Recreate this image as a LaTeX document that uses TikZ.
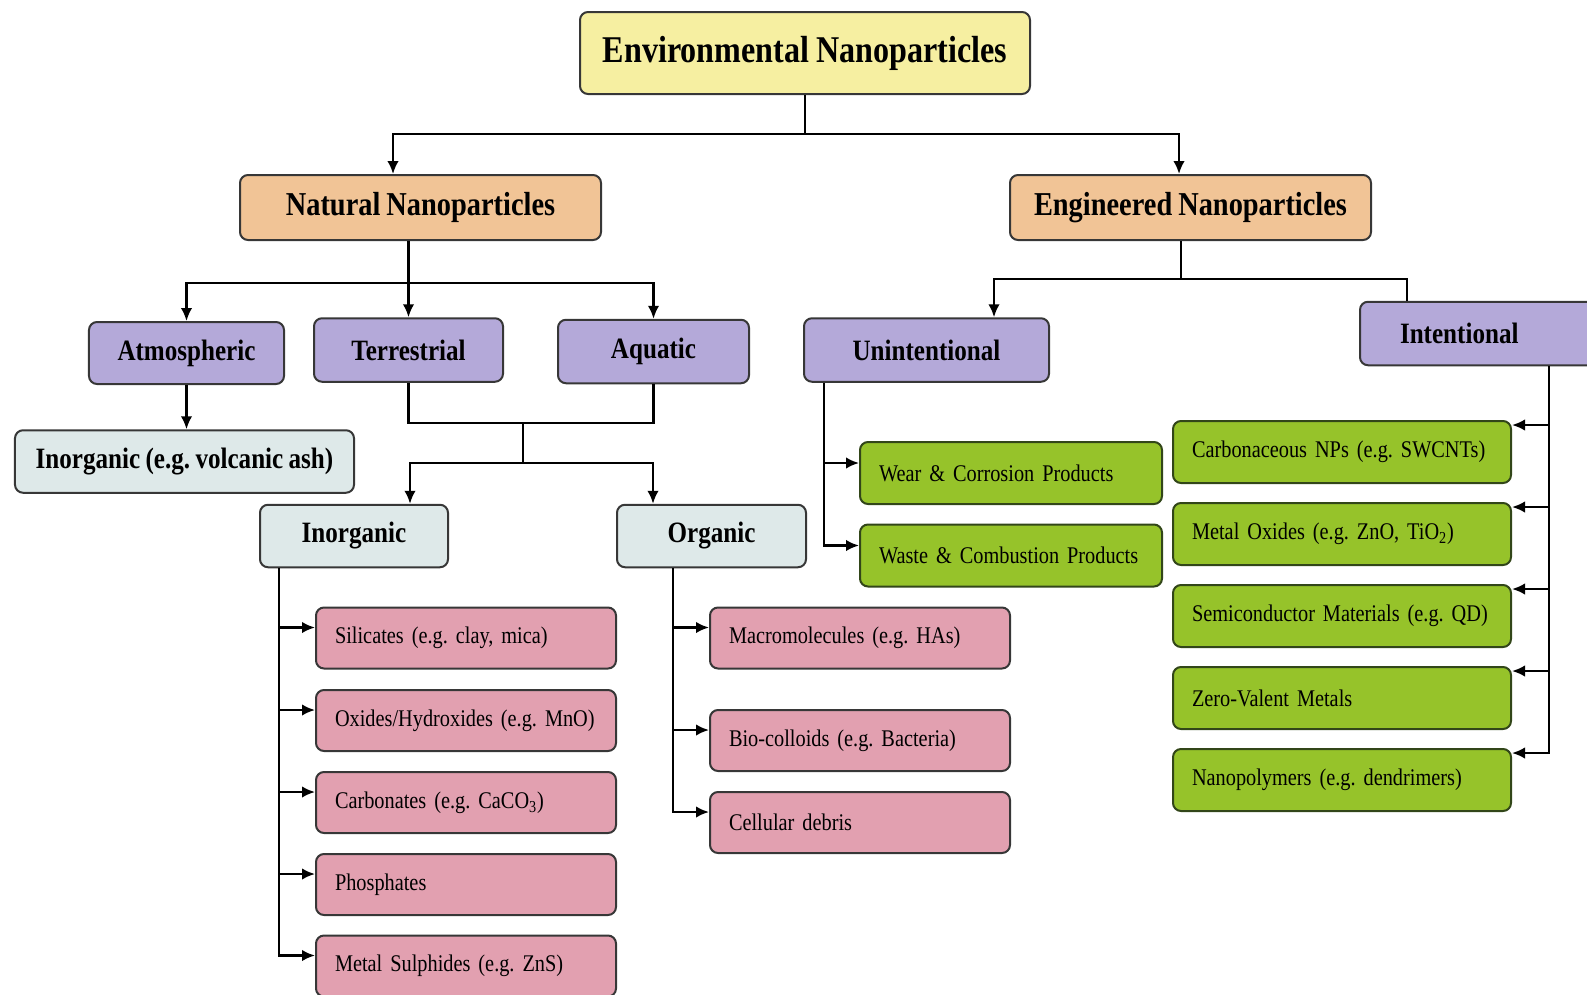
\documentclass[tikz,border=0pt]{standalone}
\usepackage{fontspec}
\setmainfont{Liberation Serif}[FakeStretch=0.85, WordSpace=0.85]
\usepackage{xcolor}
\usetikzlibrary{arrows.meta}

\definecolor{titleyellow}{RGB}{246,239,161}
\definecolor{natorange}{RGB}{241,196,150}
\definecolor{lavender}{RGB}{180,169,217}
\definecolor{paleblue}{RGB}{222,233,233}
\definecolor{pinkbox}{RGB}{226,160,176}
\definecolor{greenbox}{RGB}{150,195,42}
\definecolor{greenline}{RGB}{50,70,25}
\definecolor{boxline}{RGB}{55,55,55}

\begin{document}
\frenchspacing
\begin{tikzpicture}[x=0.2mm, y=-0.2mm,
    box/.style={draw=boxline, line width=0.4mm, rounded corners=1.6mm, inner sep=0pt},
    top/.style={box, fill=titleyellow, minimum width=90mm, minimum height=16.4mm,
        font=\fontsize{21.5}{24}\selectfont\bfseries},
    origin/.style={box, fill=natorange, minimum width=72.2mm, minimum height=13mm,
        font=\fontsize{19}{22}\selectfont\bfseries},
    source/.style={box, fill=lavender, minimum height=12.7mm,
        font=\fontsize{16.8}{19}\selectfont\bfseries},
    kind/.style={box, fill=paleblue, minimum height=12.5mm,
        font=\fontsize{16.8}{19}\selectfont\bfseries},
    natleaf/.style={box, fill=pinkbox, minimum height=12.2mm, text width=52.4mm,
        align=left, inner xsep=3.8mm, font=\fontsize{13.6}{16}\selectfont},
    engleaf/.style={box, draw=greenline, fill=greenbox, minimum height=12.4mm,
        align=left, inner xsep=3.8mm, font=\fontsize{13.6}{16}\selectfont},
    line/.style={line width=0.45mm},
    arr/.style={line, -{Latex[length=2.6mm,width=2.3mm]}}
]
  \useasboundingbox (0,0) rectangle (1587,994);
  \clip (0,0) rectangle (1587,994);

  % 顶层
  \node[top] (env) at (805,53) {Environmental Nanoparticles};
  \node[origin] (nat) at (420.5,207.5) {Natural Nanoparticles};
  \node[origin] (eng) at (1190.5,207.5) {Engineered Nanoparticles};

  % 来源
  \node[source, minimum width=39mm, minimum height=12.4mm] (atm) at (186.5,353) {Atmospheric};
  \node[source, minimum width=37.8mm] (ter) at (408.5,350) {Terrestrial};
  \node[source, minimum width=38.2mm] (aqu) at (653.5,351.5) {Aquatic};
  \node[source, minimum width=49mm] (unint) at (926.5,350) {Unintentional};
  \node[source, text width=34mm, align=left, inner xsep=8mm] (int) at (1485,333.5) {Intentional};

  % 类别
  \node[kind, minimum width=67.8mm] (volc) at (184.5,461.5) {Inorganic (e.g. volcanic ash)};
  \node[kind, minimum width=37.6mm] (inorg) at (354,536) {Inorganic};
  \node[kind, minimum width=37.8mm] (org) at (711.5,536) {Organic};

  % 天然颗粒
  \node[natleaf] (sil) at (466,638) {Silicates (e.g. clay, mica)};
  \node[natleaf] (oxi) at (466,720.5) {Oxides/Hydroxides (e.g. MnO)};
  \node[natleaf] (carb) at (466,802.5) {Carbonates (e.g. CaCO\textsubscript{3})};
  \node[natleaf] (phos) at (466,884.5) {Phosphates};
  \node[natleaf] (sulf) at (466,966) {Metal Sulphides (e.g. ZnS)};
  \node[natleaf] (macro) at (860,638) {Macromolecules (e.g. HAs)};
  \node[natleaf] (bio) at (860,740.5) {Bio-colloids (e.g. Bacteria)};
  \node[natleaf] (cell) at (860,822.5) {Cellular debris};

  % 工程颗粒
  \node[engleaf, text width=52.8mm] (wear) at (1011,473) {Wear \& Corrosion Products};
  \node[engleaf, text width=52.8mm] (waste) at (1011,555.5) {Waste \& Combustion Products};
  \node[engleaf, text width=60mm] (cnp) at (1342,452) {Carbonaceous NPs (e.g. SWCNTs)};
  \node[engleaf, text width=60mm] (mox) at (1342,534) {Metal Oxides (e.g. ZnO, TiO\textsubscript{2})};
  \node[engleaf, text width=60mm] (semi) at (1342,616) {Semiconductor Materials (e.g. QD)};
  \node[engleaf, text width=60mm] (zero) at (1342,698) {Zero-Valent Metals};
  \node[engleaf, text width=60mm] (poly) at (1342,780) {Nanopolymers (e.g. dendrimers)};

  % 连接点
  \coordinate (j0) at (805,134);
  \coordinate (j1) at (408.5,283);
  \coordinate (j2) at (523,423);
  \coordinate (j3) at (523,463);
  \coordinate (j4) at (1181,279);

  % 连线
  \draw[line] (env.south) -- (j0);
  \draw[arr] (j0) -| ([xshift=-5.5mm]nat.north);
  \draw[arr] (j0) -| ([xshift=-2.3mm]eng.north);

  \draw[line] (nat.south -| j1) -- (j1);
  \draw[arr] (j1) -| (atm.north);
  \draw[arr] (j1) -- (ter.north);
  \draw[arr] (j1) -| (aqu.north);
  \draw[arr] (atm.south) -- (atm.south |- volc.north);

  \draw[line] (ter.south) |- (j2) -| (aqu.south);
  \draw[line] (j2) -- (j3);
  \draw[arr] (j3) -| ([xshift=11.2mm]inorg.north);
  \draw[arr] (j3) -| ([xshift=-11.7mm]org.north);

  \draw[arr] ([xshift=-15mm]inorg.south) |- ([yshift=2.1mm]sil.west);
  \draw[arr] ([xshift=-15mm]inorg.south) |- ([yshift=2.1mm]oxi.west);
  \draw[arr] ([xshift=-15mm]inorg.south) |- ([yshift=2.1mm]carb.west);
  \draw[arr] ([xshift=-15mm]inorg.south) |- ([yshift=2.1mm]phos.west);
  \draw[arr] ([xshift=-15mm]inorg.south) |- ([yshift=2.1mm]sulf.west);

  \draw[arr] ([xshift=-7.7mm]org.south) |- ([yshift=2.1mm]macro.west);
  \draw[arr] ([xshift=-7.7mm]org.south) |- ([yshift=2.1mm]bio.west);
  \draw[arr] ([xshift=-7.7mm]org.south) |- ([yshift=2.1mm]cell.west);

  \draw[line] (eng.south -| j4) -- (j4);
  \draw[arr] (j4) -| ([xshift=13.5mm]unint.north);
  \draw[line] (j4) -| ([xshift=-15.6mm]int.north);

  \draw[arr] ([xshift=-20.5mm]unint.south) |- ([yshift=2mm]wear.west);
  \draw[arr] ([xshift=-20.5mm]unint.south) |- ([yshift=2mm]waste.west);

  \draw[arr] ([xshift=12.8mm]int.south) |- ([yshift=5.4mm]cnp.east);
  \draw[arr] ([xshift=12.8mm]int.south) |- ([yshift=5.4mm]mox.east);
  \draw[arr] ([xshift=12.8mm]int.south) |- ([yshift=5.4mm]semi.east);
  \draw[arr] ([xshift=12.8mm]int.south) |- ([yshift=5.4mm]zero.east);
  \draw[arr] ([xshift=12.8mm]int.south) |- ([yshift=5.4mm]poly.east);
\end{tikzpicture}
\end{document}
